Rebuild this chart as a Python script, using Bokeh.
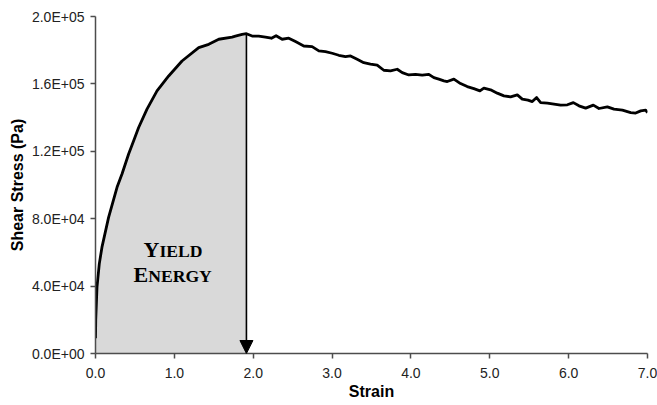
from bokeh.plotting import figure
from bokeh.models import Range1d, FixedTicker, Label, Arrow, NormalHead
from bokeh.embed import file_html
from bokeh.resources import INLINE

# ---- data ----
strain = [0.000, 0.003, 0.019, 0.048, 0.082, 0.166, 0.273, 0.336, 0.420, 0.484,
          0.547, 0.653, 0.780, 0.928, 1.097, 1.309, 1.436, 1.563, 1.732, 1.774,
          1.859, 1.914, 1.986, 2.070, 2.155, 2.231, 2.290, 2.367, 2.451, 2.536,
          2.641, 2.747, 2.832, 2.916, 3.001, 3.085, 3.170, 3.234, 3.318, 3.402,
          3.487, 3.572, 3.656, 3.741, 3.826, 3.890, 3.973, 4.058, 4.143, 4.227,
          4.291, 4.354, 4.418, 4.461, 4.545, 4.629, 4.714, 4.798, 4.875, 4.925,
          5.010, 5.095, 5.179, 5.264, 5.349, 5.412, 5.484, 5.539, 5.594, 5.645,
          5.730, 5.814, 5.899, 5.984, 6.060, 6.131, 6.216, 6.313, 6.385, 6.491,
          6.575, 6.682, 6.787, 6.850, 6.914, 6.977, 7.000]
stress = [9000, 20000, 39400, 53200, 63100, 80800, 98600, 106500, 118400, 126300,
          134100, 145000, 155900, 164700, 173600, 181500, 183500, 186500, 187800, 188400,
          189400, 189800, 188400, 188400, 187800, 187100, 188600, 186500, 187100, 185100,
          182500, 182100, 179600, 179200, 178200, 177000, 176200, 176600, 174600, 172600,
          171700, 171100, 168100, 167700, 168700, 166700, 165300, 165700, 165200, 165700,
          163700, 162800, 161800, 161400, 162800, 160200, 158400, 157200, 155900, 157500,
          156500, 154500, 152900, 152300, 153500, 151000, 150400, 149500, 151900, 148900,
          148600, 148000, 147400, 147600, 148900, 147000, 145600, 147400, 145400, 146400,
          145000, 144400, 143000, 142700, 144000, 144400, 143000]

yield_strain = 1.914
yield_stress = 189800

x_ticks = [0, 1, 2, 3, 4, 5, 6, 7]
x_tick_labels = ["0.0", "1.0", "2.0", "3.0", "4.0", "5.0", "6.0", "7.0"]
y_ticks = [0, 40000, 80000, 120000, 160000, 200000]
y_tick_labels = ["0.0E+00", "4.0E+04", "8.0E+04", "1.2E+05", "1.6E+05", "2.0E+05"]

x_title = "Strain"
y_title = "Shear Stress (Pa)"
area_words = ["YIELD", "ENERGY"]

# ---- figure ----
p = figure(width=657, height=405, output_backend="svg", toolbar_location=None,
           x_range=Range1d(0, 7), y_range=Range1d(0, 200000),
           min_border_left=95, min_border_right=10, min_border_top=16, min_border_bottom=52)
p.outline_line_color = None
p.background_fill_color = "white"
p.border_fill_color = "white"
p.xgrid.visible = False
p.ygrid.visible = False

fill_x = [s for s in strain if s <= yield_strain]
fill_y = [v for s, v in zip(strain, stress) if s <= yield_strain]
p.varea(x=fill_x, y1=[0] * len(fill_x), y2=fill_y, fill_color="#d9d9d9")

p.line(strain, stress, line_color="black", line_width=2.8, line_join="round")

p.add_layout(Arrow(end=NormalHead(size=13, fill_color="black", line_color="black"),
                   x_start=yield_strain, y_start=yield_stress, x_end=yield_strain, y_end=0,
                   line_color="black", line_width=1.6))

# small caps "YIELD ENERGY" (big initial + smaller rest), baselines aligned
serif = "Liberation Serif"
big, small = 22.0, 17.6
for word, xs, ys, adv in [(area_words[0], 0.61, 57100, 15.9), (area_words[1], 0.483, 42300, 14.7)]:
    p.add_layout(Label(x=xs, y=ys, y_offset=0.3375 * big, text=word[0], text_font=serif,
                       text_font_style="bold", text_font_size=f"{big}px", text_color="black",
                       text_baseline="middle", text_align="left"))
    p.add_layout(Label(x=xs, y=ys, x_offset=adv, y_offset=0.3375 * small, text=word[1:],
                       text_font=serif, text_font_style="bold", text_font_size=f"{small}px",
                       text_color="black", text_baseline="middle", text_align="left"))

for ax, ticks, labels in [(p.xaxis[0], x_ticks, x_tick_labels), (p.yaxis[0], y_ticks, y_tick_labels)]:
    ax.ticker = FixedTicker(ticks=ticks)
    ax.major_label_overrides = {t: l for t, l in zip(ticks, labels)}
    ax.minor_tick_line_color = None
    ax.major_tick_in = 0
    ax.major_tick_out = 5
    ax.axis_line_color = "#4d4d4d"
    ax.axis_line_width = 1.5
    ax.major_tick_line_color = "#4d4d4d"
    ax.major_tick_line_width = 1.5
    ax.major_label_text_font = "Liberation Sans"
    ax.major_label_text_font_size = "14px"
    ax.major_label_text_color = "#222222"
    ax.axis_label_text_font = "Liberation Sans"
    ax.axis_label_text_font_size = "16px"
    ax.axis_label_text_font_style = "bold"
    ax.axis_label_text_color = "black"

p.xaxis.axis_label = x_title
p.yaxis.axis_label = y_title
p.xaxis.major_label_standoff = 9
p.xaxis.axis_label_standoff = 2
p.yaxis.major_label_standoff = 6
p.yaxis.axis_label_standoff = 3

open("out.html", "w").write(file_html(p, INLINE))
